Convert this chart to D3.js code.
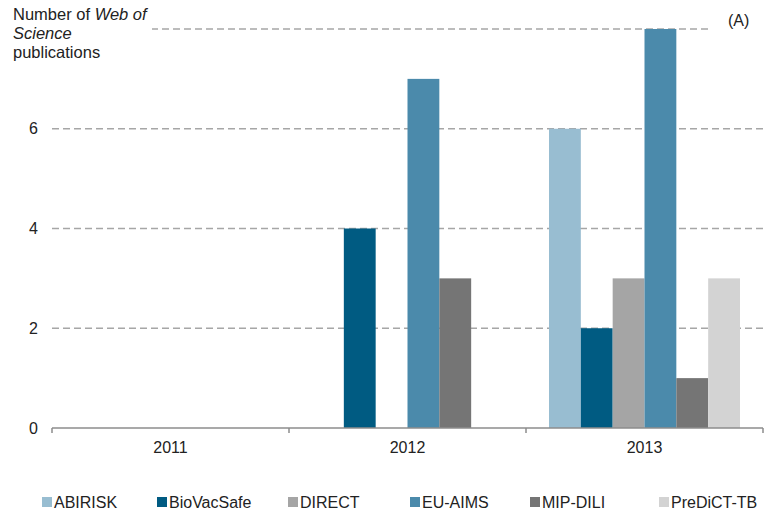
<!DOCTYPE html>
<html>
<head>
<meta charset="utf-8">
<script src="https://cdn.jsdelivr.net/npm/d3@7"></script>
<style>
  body { margin: 0; background: #fff; }
  text { font-family: "Liberation Sans", Arial, sans-serif; fill: #222; }
</style>
</head>
<body>
<svg id="chart" width="767" height="514"></svg>
<script>
// data
const years = ["2011", "2012", "2013"];
const projects = ["ABIRISK", "BioVacSafe", "DIRECT", "EU-AIMS", "MIP-DILI", "PreDiCT-TB"];
const colors = ["#98bdd1", "#005b82", "#a5a5a5", "#4b8aab", "#757575", "#d3d3d3"];
const pubs2011 = [0, 0, 0, 0, 0, 0];
const pubs2012 = [0, 4, 0, 7, 3, 0];
const pubs2013 = [6, 2, 3, 8, 1, 3];
const yTicks = [0, 2, 4, 6, 8];

const values = [pubs2011, pubs2012, pubs2013];

const svg = d3.select("#chart");
const plotL = 52, plotR = 763, plotT = 29, plotB = 428;

const x0 = d3.scaleBand().domain(years).range([plotL, plotR]);
const x1 = d3.scaleBand().domain(projects)
  .range([23, x0.bandwidth() - 23]);
const y = d3.scaleLinear().domain([0, 8]).range([plotB, plotT]);
const color = d3.scaleOrdinal().domain(projects).range(colors);

// gridlines (behind bars)
svg.append("g").selectAll("line")
  .data(yTicks.filter(d => d > 0))
  .join("line")
  .attr("x1", plotL).attr("x2", plotR)
  .attr("y1", d => y(d)).attr("y2", d => y(d))
  .attr("stroke", "#a6a6a6")
  .attr("stroke-width", 1.5)
  .attr("stroke-dasharray", "7,4");

// white boxes behind title and panel label hide the top gridline there
svg.append("rect").attr("x", 0).attr("y", 0).attr("width", 152).attr("height", 62).attr("fill", "#fff");
svg.append("rect").attr("x", 712).attr("y", 0).attr("width", 55).attr("height", 45).attr("fill", "#fff");

// bars
const groups = svg.append("g").selectAll("g")
  .data(years)
  .join("g")
  .attr("transform", d => `translate(${x0(d)},0)`);

groups.selectAll("rect")
  .data((d, i) => projects.map((p, j) => ({ p: p, v: values[i][j] })))
  .join("rect")
  .attr("x", d => x1(d.p))
  .attr("width", x1.bandwidth())
  .attr("y", d => y(d.v))
  .attr("height", d => plotB - y(d.v))
  .attr("fill", d => color(d.p));

// x axis
const xAxis = svg.append("g")
  .attr("transform", `translate(0,${plotB})`);
xAxis.append("line")
  .attr("x1", plotL).attr("x2", plotR)
  .attr("stroke", "#8c8c8c").attr("stroke-width", 1.5);
xAxis.selectAll("line.tk")
  .data(years.concat(["end"]))
  .join("line")
  .attr("class", "tk")
  .attr("x1", (d, i) => i < years.length ? x0(d) : plotR)
  .attr("x2", (d, i) => i < years.length ? x0(d) : plotR)
  .attr("y1", 0).attr("y2", 5)
  .attr("stroke", "#8c8c8c").attr("stroke-width", 1.5);
xAxis.selectAll("text")
  .data(years)
  .join("text")
  .attr("x", d => x0(d) + x0.bandwidth() / 2)
  .attr("y", 25)
  .attr("text-anchor", "middle")
  .attr("font-size", 16)
  .text(d => d);

// y labels
svg.append("g").selectAll("text")
  .data(yTicks.filter(d => d < 8))
  .join("text")
  .attr("x", 38)
  .attr("y", d => y(d))
  .attr("dy", "0.35em")
  .attr("text-anchor", "end")
  .attr("font-size", 16)
  .text(d => d);

// axis title
const title = svg.append("text").attr("x", 13).attr("font-size", 16.5);
title.append("tspan").attr("x", 13).attr("y", 20).text("Number of ");
title.append("tspan").attr("font-style", "italic").text("Web of");
title.append("tspan").attr("x", 13).attr("y", 39).attr("font-style", "italic").text("Science");
title.append("tspan").attr("x", 13).attr("y", 58).text("publications");

// panel label
svg.append("text")
  .attr("x", 728).attr("y", 26)
  .attr("font-size", 16)
  .text("(A)");

// legend
const legendX = [42, 157, 288, 410, 530, 659];
const legend = svg.append("g").selectAll("g")
  .data(projects)
  .join("g")
  .attr("transform", (d, i) => `translate(${legendX[i]},497)`);
legend.append("rect")
  .attr("width", 10).attr("height", 10)
  .attr("fill", d => color(d));
legend.append("text")
  .attr("x", 12).attr("y", 11)
  .attr("font-size", 16)
  .text(d => d);
</script>
</body>
</html>
